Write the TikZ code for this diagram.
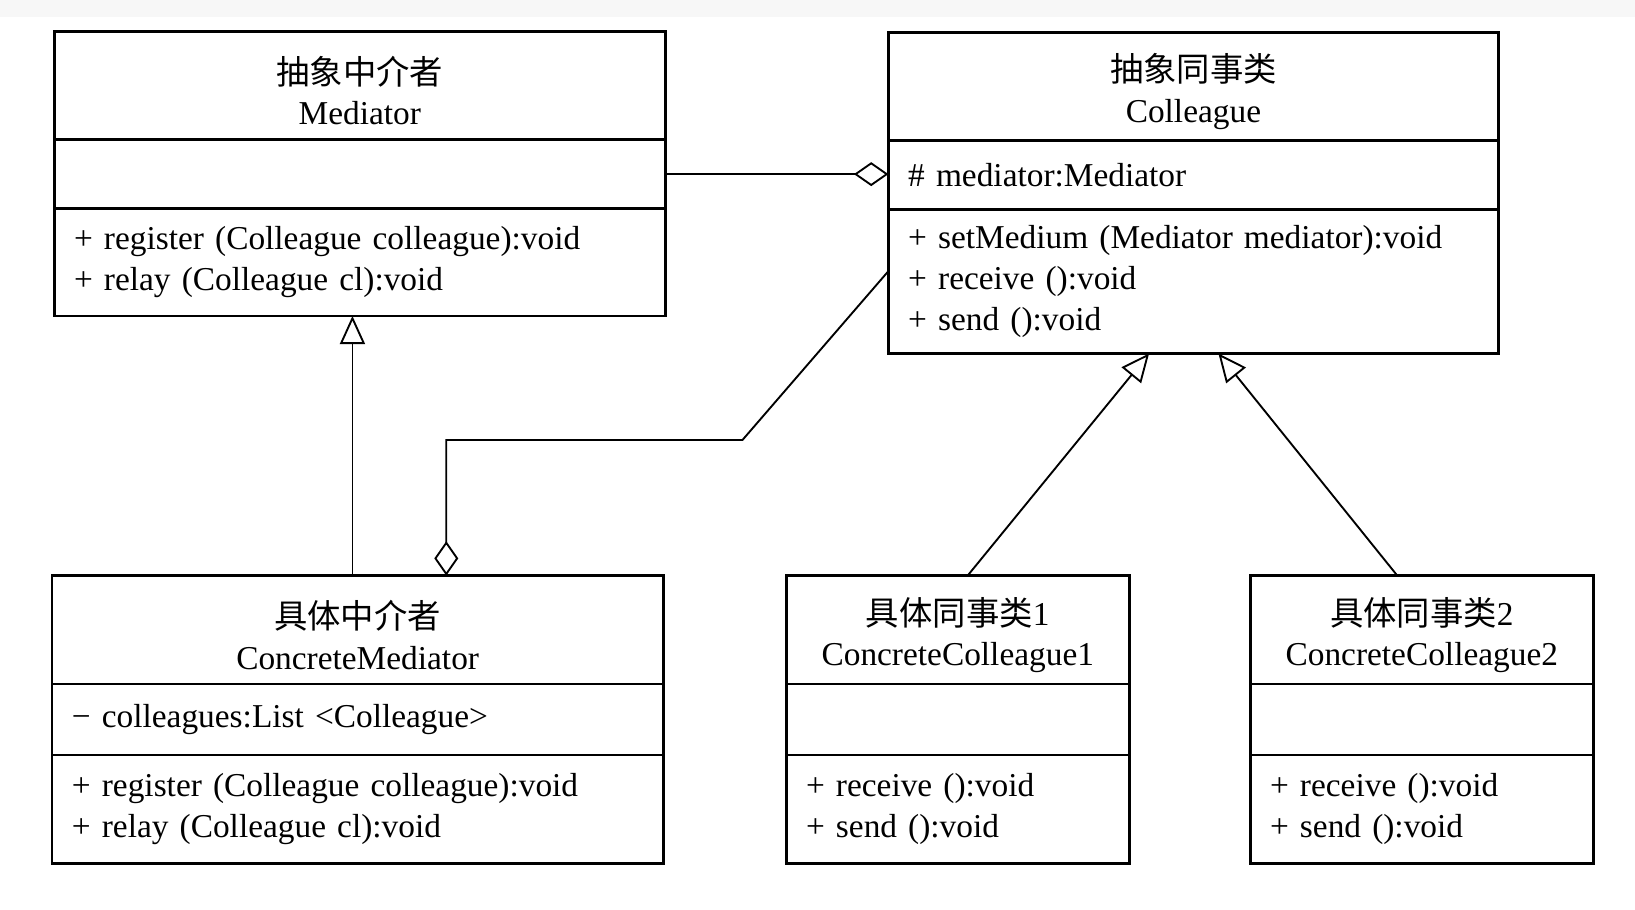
\documentclass[tikz,border=0pt]{standalone}
\usepackage{fontspec}
\setmainfont{Liberation Serif}
\newfontfamily\cjk{Noto Sans CJK SC}
\usetikzlibrary{arrows.meta,positioning}

\begin{document}
\begin{tikzpicture}[x=0.5pt,y=-0.5pt,
  font=\fontsize{16}{19.5}\selectfont,
  classhead/.style={draw,line width=1.3pt,outer sep=0pt,anchor=north west,align=center,inner sep=0pt},
  classpart/.style={draw,line width=1.3pt,outer sep=0pt,anchor=north west,align=left,inner xsep=9.5pt,inner ysep=0pt},
  inherit/.style={-{Triangle[open,length=13.5pt,width=12pt]},line width=0.9pt},
  aggreg/.style={-{Diamond[open,length=16.5pt,width=11.5pt]},line width=0.9pt}]
% Canvas
\fill[white] (0,0) rectangle (1568,872);
\fill[black!3] (0,0) rectangle (1568,16);
\useasboundingbox (0,0) rectangle (1568,872);

% Abstract mediator
\node[classhead,minimum width=293pt,minimum height=52pt] (med) at (52,30) {\rule{0pt}{18.5pt}{\cjk 抽象中介者}\\Mediator};
\node[classpart,text width=274pt,minimum height=33pt,below=0pt of med] (medA) {};
\node[classpart,text width=274pt,minimum height=51.5pt,below=0pt of medA] (medM) {+ register (Colleague colleague):void\\+ relay (Colleague cl):void};

% Abstract colleague
\node[classhead,minimum width=292.5pt,minimum height=52pt] (col) at (852,31) {\rule{0pt}{18.5pt}{\cjk 抽象同事类}\\Colleague};
\node[classpart,text width=273.5pt,minimum height=33pt,below=0pt of col] (colA) {\# mediator:Mediator};
\node[classpart,text width=273.5pt,minimum height=69pt,below=0pt of colA] (colM) {+ setMedium (Mediator mediator):void\\+ receive ():void\\+ send ():void};

% Concrete mediator
\node[classhead,minimum width=293pt,minimum height=52pt] (cmed) at (50,552) {\rule{0pt}{18.5pt}{\cjk 具体中介者}\\ConcreteMediator};
\node[classpart,text width=274pt,minimum height=34pt,below=0pt of cmed] (cmedA) {− colleagues:List <Colleague>};
\node[classpart,text width=274pt,minimum height=52pt,below=0pt of cmedA] (cmedM) {+ register (Colleague colleague):void\\+ relay (Colleague cl):void};

% Concrete colleagues
\node[classhead,minimum width=164.5pt,minimum height=52pt] (cc1) at (754,552) {\rule{0pt}{18.5pt}{\cjk 具体同事类}1\\ConcreteColleague1};
\node[classpart,text width=145.5pt,minimum height=34pt,below=0pt of cc1] (cc1A) {};
\node[classpart,text width=145.5pt,minimum height=52pt,below=0pt of cc1A] (cc1M) {+ receive ():void\\+ send ():void};

\node[classhead,minimum width=164.5pt,minimum height=52pt] (cc2) at (1199,552) {\rule{0pt}{18.5pt}{\cjk 具体同事类}2\\ConcreteColleague2};
\node[classpart,text width=145.5pt,minimum height=34pt,below=0pt of cc2] (cc2A) {};
\node[classpart,text width=145.5pt,minimum height=52pt,below=0pt of cc2A] (cc2M) {+ receive ():void\\+ send ():void};

% Relations
\draw[aggreg] (medA.east) -- (medA.east -| colA.west);
\draw[inherit] ([xshift=-2.5pt]cmed.north) -- ([xshift=-2.5pt]cmed.north |- medM.south);
\coordinate (bend) at (712,422);
\coordinate (cmedJoin) at ([xshift=42.5pt]cmed.north);
\draw[aggreg] ([yshift=5pt]colM.west) -- (bend) -- (bend -| cmedJoin) -- (cmedJoin);
\draw[inherit] ([xshift=4.75pt]cc1.north) -- ([xshift=-21.25pt]colM.south);
\draw[inherit] ([xshift=-11.75pt]cc2.north) -- ([xshift=12pt]colM.south);
\end{tikzpicture}
\end{document}
